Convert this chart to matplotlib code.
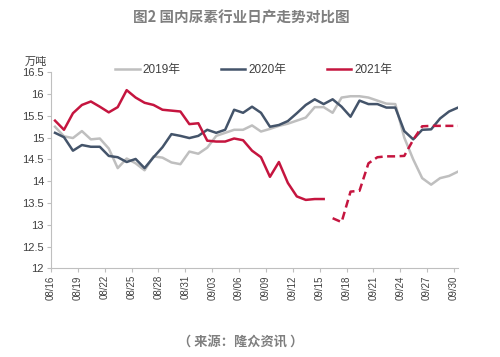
import numpy as np
import pandas as pd
import matplotlib
matplotlib.use('Agg')
import matplotlib.pyplot as plt

plt.rcParams['font.family'] = ['Liberation Sans', 'Noto Sans CJK SC']

# daily output, 08/16 - 09/30
dates = pd.date_range('2021-08-16', '2021-09-30').strftime('%m/%d').tolist()

y2019 = [15.25, 15.03, 14.99, 15.15, 14.96, 14.98, 14.75, 14.30, 14.52, 14.41,
         14.25, 14.57, 14.54, 14.43, 14.39, 14.68, 14.63, 14.77, 15.04, 15.11,
         15.18, 15.18, 15.28, 15.14, 15.20, 15.27, 15.32, 15.39, 15.46, 15.70,
         15.70, 15.57, 15.92, 15.95, 15.95, 15.92, 15.85, 15.78, 15.77, 15.00,
         14.50, 14.07, 13.92, 14.07, 14.12, 14.22]

y2020 = [15.11, 15.01, 14.70, 14.83, 14.79, 14.79, 14.58, 14.55, 14.44, 14.51,
         14.30, 14.55, 14.78, 15.08, 15.04, 14.99, 15.04, 15.18, 15.11, 15.18,
         15.64, 15.57, 15.71, 15.57, 15.25, 15.29, 15.38, 15.56, 15.75, 15.88,
         15.77, 15.88, 15.71, 15.48, 15.85, 15.77, 15.77, 15.69, 15.69, 15.15,
         14.96, 15.18, 15.19, 15.44, 15.60, 15.69]

# 2021 actual (to 09/15) and outlook (dashed, from 09/16)
y2021 = [15.39, 15.18, 15.56, 15.75, 15.83, 15.71, 15.58, 15.70, 16.09, 15.92,
         15.80, 15.75, 15.64, 15.62, 15.60, 15.31, 15.33, 14.93, 14.91, 14.91,
         14.98, 14.94, 14.70, 14.55, 14.10, 14.44, 13.96, 13.65, 13.57, 13.59,
         13.59]
y2021_fc = [13.15, 13.06, 13.76, 13.78, 14.41, 14.55, 14.57, 14.57, 14.58, 14.95,
            15.26, 15.27, 15.27, 15.27, 15.27]

fig = plt.figure(figsize=(5, 3.57), dpi=100)
ax = fig.add_axes([0.102, 0.2485, 0.814, 0.549])

x = np.arange(len(dates))
ax.plot(x, y2019, color='#BFBFBF', lw=1.8, label='2019年')
ax.plot(x, y2020, color='#44546A', lw=1.8, label='2020年')
ax.plot(x[:len(y2021)], y2021, color='#C5153F', lw=1.8, label='2021年')
ax.plot(x[len(y2021):], y2021_fc, color='#C5153F', lw=1.8, dashes=(3.2, 1.8))

ax.set_ylim(12, 16.5)
ax.set_yticks(np.arange(12, 16.51, 0.5))
ax.set_yticklabels(['12', '12.5', '13', '13.5', '14', '14.5', '15', '15.5', '16', '16.5'])
ax.set_xlim(-0.45, 45)
ticks = x[::3]
ax.set_xticks(ticks - 0.45)
ax.set_xticklabels([dates[i] for i in ticks], rotation=90, fontsize=7)

for s in ['top', 'right']:
    ax.spines[s].set_visible(False)
for s in ['left', 'bottom']:
    ax.spines[s].set_color('#BFBFBF')
ax.tick_params(axis='both', colors='#BFBFBF', labelcolor='#404040', length=3)
ax.tick_params(axis='y', labelsize=8, pad=2)
ax.tick_params(axis='x', pad=2)

fig.legend(loc='center', bbox_to_anchor=(0.507, 0.804), ncol=3, frameon=False,
           fontsize=8.5, handlelength=2.1, handletextpad=0.25, columnspacing=3.4,
           labelcolor='#404040')

fig.text(0.072, 0.826, '万吨', fontsize=8, color='#404040', ha='center', va='center')
fig.text(0.483, 0.95, '图2 国内尿素行业日产走势对比图', fontsize=10.5, fontweight='bold',
         color='#7F7F7F', ha='center', va='center', family='Noto Sans CJK SC')
fig.text(0.482, 0.043, '（ 来源：隆众资讯 ）', fontsize=9.5, fontweight='bold',
         color='#7F7F7F', ha='center', va='center', family='Noto Sans CJK SC')

fig.savefig('out.png', dpi=100)
